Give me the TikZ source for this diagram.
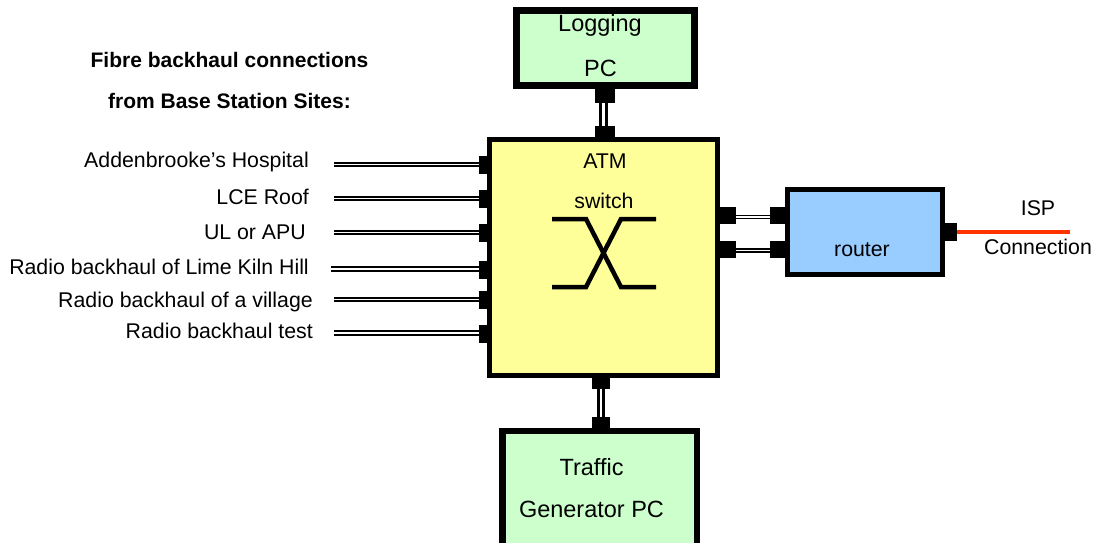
\documentclass[tikz,border=0pt]{standalone}
\usepackage{fontspec}
\setmainfont{Liberation Sans}
\definecolor{atmyellow}{HTML}{FFFF99}
\definecolor{pcgreen}{HTML}{CCFFCC}
\definecolor{routerblue}{HTML}{99CCFF}
\definecolor{ispred}{HTML}{FF3300}
\tikzset{
  unit/.style={draw=black, line width=#1, inner sep=0pt, outer sep=0pt},
  unit/.default=5pt,
  port/.style={fill=black, inner sep=0pt, outer sep=0pt},
  fibre/.style={draw=black, line width=2pt, double=white, double distance=1.5pt},
  link/.style={draw=black, line width=1.6pt, double=white, double distance=1.4pt},
  trunk/.style={draw=black, line width=3pt, double=white, double distance=2.6pt},
  lbl/.style={font=\fontsize{21.3}{25}\selectfont, inner sep=0pt},
  biglbl/.style={font=\fontsize{23.5}{28}\selectfont, inner sep=0pt},
  ttl/.style={font=\bfseries\fontsize{21}{25}\selectfont, inner sep=0pt},
  site/.style={lbl, anchor=east},
}
\begin{document}
\begin{tikzpicture}[x=1pt, y=-1pt]
\useasboundingbox (0,0) rectangle (1093,542);

% main units
\node[unit, fill=atmyellow, minimum width=228pt, minimum height=236pt] (atm) at (603.5,257.5) {};
\node[unit=7pt, fill=pcgreen, minimum width=178pt, minimum height=75pt] (log) at (605.5,48) {};
\node[unit=6.5pt, fill=pcgreen, minimum width=194.5pt, minimum height=118pt] (gen) at (599.5,490) {};
\node[unit, fill=routerblue, minimum width=155pt, minimum height=85pt] (rtr) at (865,232) {};

% unit labels
\node[biglbl] (logA) at (600,25) {Logging};
\node[biglbl] (logB) at (600.5,68) {PC};
\node[lbl] (atmA) at (605,161) {ATM};
\node[lbl] (atmB) at (604,201) {switch};
\node[lbl] (rtrA) at (862,250) {router};
\node[biglbl] (genA) at (591.5,467) {Traffic};
\node[biglbl] (genB) at (591.5,509) {Generator PC};
\node[lbl] (ispA) at (1038,208) {ISP};
\node[lbl] (ispB) at (1038,247) {Connection};

% crossbar symbol of the switch
\draw[line width=4.5pt] (552,219) -- (586,219) -- (621,287) -- (656,287);
\draw[line width=4.5pt] (552,287) -- (586,287) -- (621,219) -- (656,219);

% heading
\node[ttl] (hd1) at (229.5,60) {Fibre backhaul connections};
\node[ttl] (hd2) at (229.5,101) {from Base Station Sites:};

% site labels
\node[site] (n1) at (309,162) {Addenbrooke’s Hospital};
\node[site] (n2) at (309,197) {LCE Roof};
\node[site] (n3) at (306,232) {UL or APU};
\node[site] (n4) at (309,267) {Radio backhaul of Lime Kiln Hill};
\node[site] (n5) at (313,302) {Radio backhaul of a village};
\node[site] (n6) at (313,331) {Radio backhaul test};

% input ports on the ATM switch
\foreach \i/\y in {1/164.5, 2/198.5, 3/232.5, 4/270, 5/300, 6/333.5}
  \node[port, minimum width=10pt, minimum height=18pt] (in\i) at (484,\y) {};

% free ends of the fibres
\coordinate (f1) at (334,164.5);
\coordinate (f2) at (334,198.5);
\coordinate (f3) at (334,232.5);
\coordinate (f4) at (331,269);
\coordinate (f5) at (334,299.5);
\coordinate (f6) at (334,333);
\foreach \i in {1,...,6}
  \draw[fibre] (f\i) -- (f\i -| in\i.west);

% switch <-> logging PC
\node[port, minimum width=20pt, minimum height=14pt] (logp) at (605,96) {};
\node[port, minimum width=20pt, minimum height=11pt] (atmt) at (605,131.5) {};
\draw[trunk] ([xshift=-1.5pt]logp.south) -- ([xshift=-1.5pt]atmt.north);

% switch <-> traffic generator
\node[port, minimum width=18pt, minimum height=11pt] (atmb) at (601,383.5) {};
\node[port, minimum width=18pt, minimum height=11pt] (genp) at (601,422.5) {};
\draw[trunk] (atmb.south) -- (genp.north);

% switch <-> router, two links
\node[port, minimum width=16pt, minimum height=17pt] (atmr1) at (728,215.5) {};
\node[port, minimum width=16pt, minimum height=17pt] (atmr2) at (728,249) {};
\node[port, minimum width=15pt, minimum height=17pt] (rtl1) at (777.5,215.5) {};
\node[port, minimum width=15pt, minimum height=17pt] (rtl2) at (777.5,249) {};
\draw[link] ([yshift=-1.5pt]atmr1.east) -- ([yshift=-1.5pt]rtl1.west);
\draw[link] ([yshift=-1.5pt]atmr2.east) -- ([yshift=-1.5pt]rtl2.west);

% router uplink to the ISP
\node[port, minimum width=12pt, minimum height=18pt] (rtrp) at (951,232) {};
\coordinate (isp) at (1070,232);
\draw[ispred, line width=4.5pt] (rtrp.east) -- (isp);
\end{tikzpicture}
\end{document}
